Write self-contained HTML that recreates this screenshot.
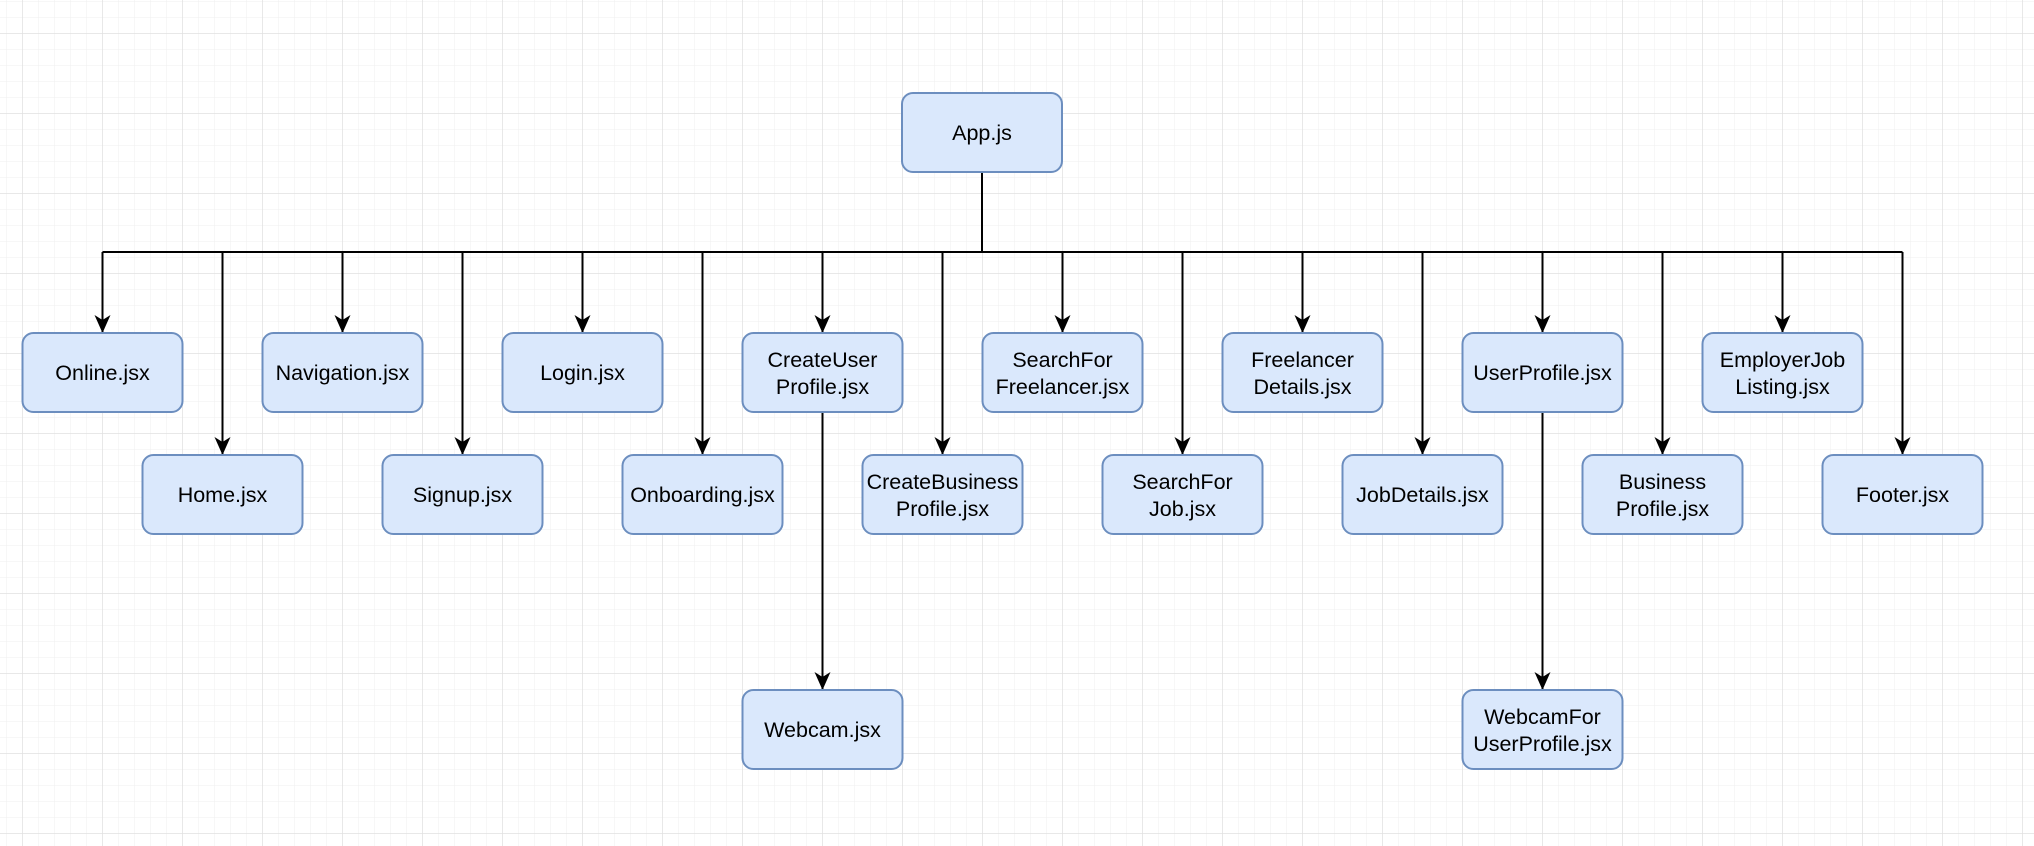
<!DOCTYPE html>
<html><head><meta charset="utf-8"><style>
html,body{margin:0;padding:0;background:#fff;}
svg{display:block;}
text{font-family:"Liberation Sans",Arial,sans-serif;font-size:21.5px;fill:#000;text-anchor:middle;}
</style></head><body>
<svg width="2034" height="846" viewBox="0 0 2034 846" xmlns="http://www.w3.org/2000/svg">
<defs>
<pattern id="minor" x="6" y="1" width="16" height="16" patternUnits="userSpaceOnUse">
<path d="M0 0H16M0 0V16" stroke="#efefef" stroke-width="1" fill="none"/>
</pattern>
<pattern id="major" x="22" y="33" width="80" height="80" patternUnits="userSpaceOnUse">
<path d="M0 0H80M0 0V80" stroke="#e0e0e0" stroke-width="1.5" fill="none"/>
</pattern>
<marker id="ah" viewBox="0 0 18 16" refX="17" refY="8" markerWidth="18" markerHeight="16" markerUnits="userSpaceOnUse" orient="auto">
<path d="M0 0 L18 8 L0 16 L5 8 Z" fill="#000"/>
</marker>
</defs>
<rect width="2034" height="846" fill="url(#minor)"/>
<rect width="2034" height="846" fill="url(#major)"/>

<g stroke="#000" stroke-width="2" fill="none">
<path d="M982 172V252"/>
<path d="M102.5 252H1902.5"/>
<path d="M102.5 252V332" marker-end="url(#ah)"/>
<path d="M342.5 252V332" marker-end="url(#ah)"/>
<path d="M582.5 252V332" marker-end="url(#ah)"/>
<path d="M822.5 252V332" marker-end="url(#ah)"/>
<path d="M1062.5 252V332" marker-end="url(#ah)"/>
<path d="M1302.5 252V332" marker-end="url(#ah)"/>
<path d="M1542.5 252V332" marker-end="url(#ah)"/>
<path d="M1782.5 252V332" marker-end="url(#ah)"/>
<path d="M222.5 252V454" marker-end="url(#ah)"/>
<path d="M462.5 252V454" marker-end="url(#ah)"/>
<path d="M702.5 252V454" marker-end="url(#ah)"/>
<path d="M942.5 252V454" marker-end="url(#ah)"/>
<path d="M1182.5 252V454" marker-end="url(#ah)"/>
<path d="M1422.5 252V454" marker-end="url(#ah)"/>
<path d="M1662.5 252V454" marker-end="url(#ah)"/>
<path d="M1902.5 252V454" marker-end="url(#ah)"/>
<path d="M822.5 413V689" marker-end="url(#ah)"/>
<path d="M1542.5 413V689" marker-end="url(#ah)"/>
</g>

<g fill="#dae8fc" stroke="#6c8ebf" stroke-width="2">
<rect x="902" y="93" width="160" height="79" rx="11"/>
<rect x="22.5" y="333" width="160" height="79" rx="11"/>
<rect x="262.5" y="333" width="160" height="79" rx="11"/>
<rect x="502.5" y="333" width="160" height="79" rx="11"/>
<rect x="742.5" y="333" width="160" height="79" rx="11"/>
<rect x="982.5" y="333" width="160" height="79" rx="11"/>
<rect x="1222.5" y="333" width="160" height="79" rx="11"/>
<rect x="1462.5" y="333" width="160" height="79" rx="11"/>
<rect x="1702.5" y="333" width="160" height="79" rx="11"/>
<rect x="142.5" y="455" width="160" height="79" rx="11"/>
<rect x="382.5" y="455" width="160" height="79" rx="11"/>
<rect x="622.5" y="455" width="160" height="79" rx="11"/>
<rect x="862.5" y="455" width="160" height="79" rx="11"/>
<rect x="1102.5" y="455" width="160" height="79" rx="11"/>
<rect x="1342.5" y="455" width="160" height="79" rx="11"/>
<rect x="1582.5" y="455" width="160" height="79" rx="11"/>
<rect x="1822.5" y="455" width="160" height="79" rx="11"/>
<rect x="742.5" y="690" width="160" height="79" rx="11"/>
<rect x="1462.5" y="690" width="160" height="79" rx="11"/>
</g>

<text x="982" y="140">App.js</text>
<text x="102.5" y="380">Online.jsx</text>
<text x="342.5" y="380">Navigation.jsx</text>
<text x="582.5" y="380">Login.jsx</text>
<text x="822.5" y="367">CreateUser</text><text x="822.5" y="394">Profile.jsx</text>
<text x="1062.5" y="367">SearchFor</text><text x="1062.5" y="394">Freelancer.jsx</text>
<text x="1302.5" y="367">Freelancer</text><text x="1302.5" y="394">Details.jsx</text>
<text x="1542.5" y="380">UserProfile.jsx</text>
<text x="1782.5" y="367">EmployerJob</text><text x="1782.5" y="394">Listing.jsx</text>
<text x="222.5" y="502">Home.jsx</text>
<text x="462.5" y="502">Signup.jsx</text>
<text x="702.5" y="502">Onboarding.jsx</text>
<text x="942.5" y="489">CreateBusiness</text><text x="942.5" y="516">Profile.jsx</text>
<text x="1182.5" y="489">SearchFor</text><text x="1182.5" y="516">Job.jsx</text>
<text x="1422.5" y="502">JobDetails.jsx</text>
<text x="1662.5" y="489">Business</text><text x="1662.5" y="516">Profile.jsx</text>
<text x="1902.5" y="502">Footer.jsx</text>
<text x="822.5" y="737">Webcam.jsx</text>
<text x="1542.5" y="724">WebcamFor</text><text x="1542.5" y="751">UserProfile.jsx</text>
</svg>
</body></html>
